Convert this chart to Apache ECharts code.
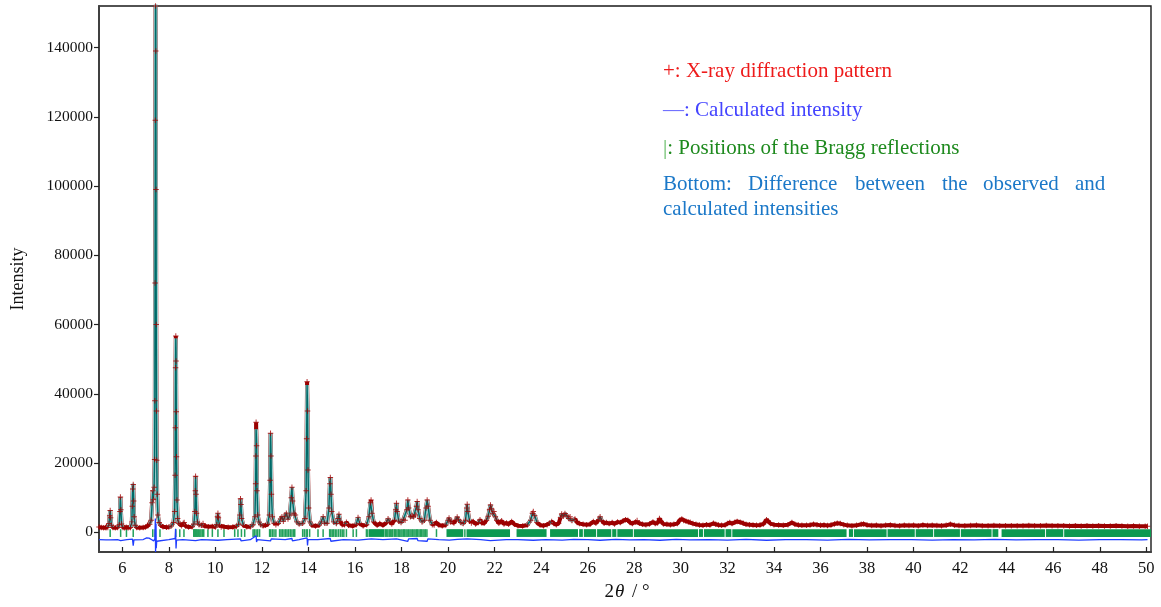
<!DOCTYPE html>
<html>
<head>
<meta charset="utf-8">
<script src="https://cdn.jsdelivr.net/npm/echarts@6/dist/echarts.min.js"></script>
<style>
html,body{margin:0;padding:0;background:#fff;}
#chart{width:1161px;height:607px;}
</style>
</head>
<body>
<div id="chart"></div>
<script>
// ---------- DATA ----------
const xTickValues = [6,8,10,12,14,16,18,20,22,24,26,28,30,32,34,36,38,40,42,44,46,48,50];
const yTickValues = [0,20000,40000,60000,80000,100000,120000,140000];

// 2θ positions of the observed points
const twoTheta = [
5.00,5.10,5.20,5.30,5.38,5.43,5.46,5.48,5.50,5.53,5.60,5.70,5.80,5.87,5.90,5.92,5.94,5.97,6.03,6.10,6.17,6.25,6.35,6.41,6.43,6.45,6.47,6.49,6.51,6.55,6.62,6.75,6.90,
7.00,7.10,7.18,7.24,7.28,7.31,7.34,7.37,7.39,7.40,7.41,7.42,7.43,7.44,7.45,7.46,7.47,7.48,7.50,7.53,7.58,7.65,7.75,7.90,
8.00,8.10,8.20,8.25,8.27,8.28,8.29,8.30,8.31,8.32,8.33,8.35,8.38,8.42,8.48,8.55,8.62,8.66,8.72,8.85,
9.00,9.08,9.12,9.14,9.15,9.17,9.19,9.23,9.30,9.40,9.47,9.55,9.70,9.87,
10.00,10.06,10.09,10.11,10.13,10.17,10.25,10.37,10.55,10.75,10.90,
11.00,11.05,11.08,11.10,11.13,11.20,11.35,11.50,11.62,11.70,11.73,11.74,11.75,11.77,11.79,11.82,11.87,11.95,
12.05,12.15,12.25,12.32,12.35,12.37,12.39,12.41,12.45,12.52,12.60,12.70,12.80,12.86,12.92,12.98,
13.05,13.12,13.20,13.26,13.29,13.32,13.38,13.44,13.50,13.60,13.75,13.85,13.90,13.92,13.94,13.96,13.98,
14.01,14.06,14.15,14.30,14.45,14.55,14.63,14.70,14.80,14.88,14.92,14.94,14.97,
15.00,15.08,15.20,15.27,15.31,15.36,15.45,15.55,15.63,15.72,15.90,
16.05,16.13,16.20,16.35,16.50,16.60,16.66,16.69,16.73,16.80,16.95,
17.06,17.20,17.35,17.42,17.50,17.58,17.70,17.75,17.78,17.81,17.88,17.98,
18.07,18.15,18.23,18.27,18.31,18.38,18.45,18.52,18.59,18.64,18.67,18.71,18.78,18.88,18.98,
19.05,19.10,19.14,19.22,19.32,19.40,19.50,19.60,19.75,19.90,
20.00,20.04,20.10,20.16,20.25,20.33,20.39,20.45,20.55,20.65,20.75,20.80,20.82,20.85,20.92,
21.00,21.08,21.18,21.30,21.37,21.45,21.55,21.65,21.72,21.78,21.82,21.86,21.92,21.97,
22.03,22.09,22.18,22.30,22.40,22.51,22.60,22.73,22.85,
23.00,23.20,23.40,23.55,23.62,23.66,23.72,23.82,23.95,
24.10,24.25,24.35,24.45,24.55,24.65,24.75,24.83,24.88,24.95,
25.02,25.10,25.18,25.24,25.32,25.45,25.55,25.65,25.80,25.95,
26.10,26.24,26.35,26.47,26.53,26.60,26.70,26.80,26.92,
27.05,27.15,27.28,27.40,27.52,27.62,27.72,27.82,27.92,
28.05,28.12,28.22,28.35,28.50,28.65,28.80,28.90,
29.00,29.08,29.15,29.25,29.40,29.55,29.70,29.85,29.95,
30.04,30.12,30.22,30.32,30.40,30.52,30.65,30.80,30.95,
31.10,31.25,31.40,31.50,31.62,31.75,31.90,
32.00,32.10,32.20,32.32,32.42,32.55,32.68,32.80,32.95,
33.10,33.25,33.40,33.55,33.68,33.75,33.85,
34.00,34.20,34.40,34.60,34.77,34.90,
35.05,35.20,35.40,35.55,35.70,35.85,
36.00,36.15,36.30,36.45,36.60,36.72,36.85,
37.00,37.15,37.35,37.55,37.75,37.85,
38.00,38.20,38.40,38.60,38.80,39.00,39.20,39.40,39.60,39.80,
40.00,40.20,40.40,40.60,40.80,41.00,41.20,41.40,41.58,41.75,41.95,
42.20,42.45,42.70,42.95,43.20,43.45,43.70,43.95,
44.20,44.45,44.70,44.95,45.20,45.45,45.70,45.95,
46.20,46.45,46.70,46.95,47.20,47.45,47.70,47.95,
48.20,48.45,48.70,48.95,49.20,49.45,49.70,49.95,50.05
];

// observed intensities ("+")
const yObs = [
1500,1350,1300,1300,1400,2500,4800,6300,4200,2000,1400,1300,1350,2200,6000,10200,6500,2400,1400,1300,1450,1300,1400,3000,7500,12500,13800,9000,4500,2000,1400,1300,1350,
1500,1900,2300,3500,8500,12000,9500,13000,21000,38000,72000,119000,152000,139000,99000,60000,35000,20800,11000,5000,2800,2000,1600,1450,
1500,1800,2800,6000,16500,30200,47500,56700,49500,34800,21800,9350,4000,2600,2400,1900,2600,2800,1800,1500,
1600,2400,6000,12000,16200,11000,5500,3000,2200,2000,2500,1800,1600,1700,
1500,2200,4500,5500,4200,2000,1500,1600,1450,1500,1700,
2300,5000,9700,8000,4000,2000,1600,1600,2200,4500,14000,22000,31770,25000,12000,5000,3000,2200,
1900,2000,2300,5000,15000,28600,22000,11000,4500,2600,2200,2500,3800,4500,3200,4500,
5500,3800,5000,10000,13000,9000,5500,5000,3000,2400,2600,4000,12000,27000,43500,35000,18000,
7000,3000,2000,1800,2000,3000,4500,2600,2600,7000,14000,15800,11000,
6000,3000,2500,4000,5200,3200,2200,2200,2900,2000,1800,
2200,4300,2500,1900,2200,4500,8500,9300,5500,3000,2000,
2500,2000,2800,3900,3000,2400,3500,6500,8400,6000,3200,2800,
3600,3500,6500,9300,7000,4500,4800,4500,5000,7500,8900,6500,4000,3000,3500,
7000,9300,7500,3500,2200,2100,2800,2100,1900,2100,
3500,4100,3000,3200,2700,3500,4400,3600,2800,2500,3500,7000,8100,6000,3200,
2700,3100,2400,2800,3600,2700,2600,3500,4600,6500,7900,6800,5500,6000,
4500,3500,2600,3300,2400,2700,2300,3100,2300,
1900,1800,2100,3500,5500,6000,4800,2800,2100,
1900,2200,2600,3100,2500,2200,2600,4200,5300,4600,
5400,4800,4000,4500,3400,3800,2800,2500,2300,2200,
2300,3100,2600,3600,4500,3400,2600,2800,2500,
2800,2400,3000,2800,3300,3600,3500,2800,2500,
3000,3400,2600,2300,2200,2400,3000,2500,
2700,4000,3200,2400,2300,2200,2300,2500,3500,
3800,3400,3200,3000,2900,2500,2300,2100,2000,
2200,2100,2600,2300,2100,2000,2100,
2500,2800,2500,2900,3100,2900,2600,2300,2200,
2100,2000,2100,2400,3600,3300,2500,
2200,2100,2000,2200,2800,2300,
2100,2000,2000,2100,2300,2200,
2000,2100,1950,2100,2400,2600,2500,
2200,2000,1900,2000,2300,2400,
2100,1950,2000,1900,2000,2100,1950,1900,2050,1950,
2000,1900,2100,1950,2000,1950,1900,2000,2300,2050,1950,
1850,1950,2000,1850,1900,1950,1850,1900,
1850,1900,1850,1950,1850,1900,1950,1850,
1900,1850,1800,1850,1800,1850,1800,1850,
1800,1800,1850,1800,1750,1800,1750,1750,1750
];

// calculated intensities (drawn where they stand out from the observed band)
const yCalc = [
null,null,null,null,1400,2400,5000,6400,4400,2000,1400,null,1350,2000,6300,10000,6800,2300,1400,null,null,null,1400,2900,7800,12800,14000,9500,4300,2000,1400,null,null,
null,null,2300,3500,8000,11800,9800,14000,22000,40000,75000,120000,158000,150000,100000,62000,36000,21000,11000,5200,2800,2000,null,null,
1500,1800,2800,6500,17000,30000,48000,56000,52000,36000,22000,9500,4000,2600,2400,null,2600,2800,null,null,
1600,2400,6000,12500,16000,11500,5600,3000,2200,2000,2500,null,null,null,
1500,2200,4700,5500,4200,2000,null,null,null,null,1700,
2300,5200,9500,8200,4000,2000,null,1600,2200,4500,14000,22000,29750,26000,12500,5000,3000,2200,
1900,null,2300,5200,15000,28600,23000,11000,4500,2600,null,2500,3800,4500,3200,4500,
5500,3800,5000,10500,13000,9000,5500,5000,3000,2400,2600,4000,12500,27000,42500,36000,18500,
7000,3000,2000,null,2000,3000,4500,2600,2600,7000,14500,15800,11000,
6000,3000,2500,4000,5200,3200,null,2200,2900,null,null,
2200,4300,2500,null,2200,4500,8800,9200,5500,3000,null,
2500,null,2800,3900,3000,null,3500,6500,8400,6000,3200,2800,
3600,3500,6500,9300,7000,4500,4800,4500,5000,7500,8900,6500,4000,3000,3500,
7000,9300,7500,3500,2200,null,2800,null,null,2100,
3500,4100,3000,3200,null,3500,4400,3600,2800,2500,3500,7000,8100,6000,3200,
null,3100,null,2800,3600,null,null,3500,4600,6500,7900,6800,5500,6000,
4500,3500,null,3300,null,2700,null,3100,null,
null,null,2100,3500,5500,6000,4800,2800,null,
null,null,2600,3100,null,null,null,4200,5300,4600,
5400,4800,4000,4500,3400,3800,null,null,null,null,
null,3100,null,3600,4500,3400,null,null,null,
null,null,null,null,null,null,null,null,null,
null,null,null,null,null,null,null,null,
null,null,null,null,null,null,null,null,null,
null,null,null,null,null,null,null,null,null,
null,null,null,null,null,null,null,
null,null,null,null,null,null,null,null,null,
null,null,null,null,null,null,null,
null,null,null,null,null,null,
null,null,null,null,null,null,
null,null,null,null,null,null,null,
null,null,null,null,null,null,
null,null,null,null,null,null,null,null,null,null,
null,null,null,null,null,null,null,null,null,null,null,
null,null,null,null,null,null,null,null,
null,null,null,null,null,null,null,null,
null,null,null,null,null,null,null,null,
null,null,null,null,null,null,null,null,null
];

// difference curve (observed - calculated, shifted below zero)
const diffX = [5.00,5.30,5.48,5.50,5.52,5.80,5.93,5.95,6.20,6.44,6.47,6.50,6.90,7.05,7.10,7.15,7.25,7.35,7.40,7.42,7.43,7.44,7.45,7.46,7.48,7.55,8.00,8.27,8.29,8.31,8.33,8.60,9.15,9.17,9.40,10.11,10.50,11.08,11.10,11.50,11.75,11.77,11.80,12.37,12.40,13.00,13.29,13.31,13.60,13.94,13.96,13.98,14.40,14.94,14.96,15.50,16.13,16.70,16.72,17.20,17.78,17.80,18.27,18.30,18.67,18.70,19.10,19.13,19.60,20.05,20.40,20.82,20.85,21.40,21.82,21.86,22.50,23.00,23.66,24.20,24.90,25.40,26.00,26.53,27.20,27.80,28.40,29.10,29.80,30.40,31.20,32.00,32.80,33.68,34.50,35.40,36.30,37.20,38.10,39.00,39.90,40.80,41.70,42.60,43.50,44.40,45.30,46.20,47.10,48.00,48.90,49.80,50.05];
const diffY = [-2150,-2200,-2200,-2600,-2100,-2150,-2400,-2000,-2100,-2000,-3900,-2200,-2100,-1600,-1100,-1700,-2100,-2500,-1900,4000,-5700,-1600,2500,-4600,-2600,-2100,-2150,-1800,1000,-4700,-2300,-2100,-2400,-1900,-2100,-2300,-2100,-1900,-2500,-2150,-1000,-2800,-2100,-2500,-1900,-2150,-1800,-2500,-2100,-1600,-3800,-2100,-2150,-1800,-2600,-2100,-2250,-1900,-2400,-2150,-1900,-2400,-2600,-1900,-1800,-2400,-2600,-1900,-2100,-2250,-2050,-1900,-2400,-2100,-2400,-1900,-2150,-2100,-2300,-2100,-2250,-2050,-2150,-2300,-2050,-2200,-2100,-2300,-2050,-2200,-2100,-2250,-2050,-2300,-2150,-2100,-2250,-2050,-2200,-2150,-2100,-2250,-2100,-2200,-2050,-2200,-2150,-2100,-2250,-2150,-2100,-2200,-2150];

// Bragg reflection positions: single ticks and dense bands [from, to]
const braggTicks = [5.48,5.93,6.18,6.47,7.31,7.41,7.62,8.30,8.47,8.65,9.07,9.10,9.14,9.18,9.22,9.27,9.33,9.38,9.44,9.50,9.68,9.87,10.11,10.37,10.83,10.97,11.12,11.26,11.62,11.68,11.75,11.82,11.90,12.33,12.38,12.45,12.52,12.60,12.76,12.82,12.88,12.95,13.02,13.08,13.15,13.22,13.29,13.36,13.41,13.75,13.82,13.90,13.95,14.05,14.41,14.63,14.91,14.96,15.02,15.08,15.15,15.22,15.30,15.38,15.45,15.52,15.63,15.92,16.06,16.49,16.55,17.30,17.36,17.41,17.47,17.52,17.58,17.62,17.69,17.74,17.80,17.86,17.90,17.97,18.02,18.08,18.13,18.19,18.24,18.30,18.36,18.41,18.47,18.53,18.58,18.64,18.69,18.75,18.81,18.86,18.92,18.97,19.03,19.09,19.50,20.72];
const braggBandFrom = [16.60,19.93,20.79,22.94,24.38,25.63,25.83,26.40,27.05,27.27,27.98,30.78,30.99,31.92,32.21,37.22,37.44,38.88,40.09,40.88,42.03,43.39,43.78,45.69,46.47];
const braggBandTo   = [17.26,20.65,22.66,24.23,25.58,25.79,26.36,27.01,27.23,27.94,30.74,30.95,31.88,32.17,37.12,37.40,38.84,40.05,40.84,41.99,43.35,43.64,45.65,46.43,50.20];
const braggTop = 900, braggBottom = -1350;

// ---------- CHART ----------
const serif = '"Liberation Serif","Times New Roman",serif';
const obsData = twoTheta.map((x, i) => [x, yObs[i]]);
const calcData = twoTheta.map((x, i) => [x, yCalc[i] == null ? '-' : yCalc[i]]);
const diffData = diffX.map((x, i) => [x, diffY[i]]);
const tickData = braggTicks.map(x => [x]);
const bandData = braggBandFrom.map((a, i) => [a, braggBandTo[i]]);
const plusSymbol = 'path://M-1,-0.18H1V0.18H-1Z M-0.18,-1H0.18V1H-0.18Z';

const chart = echarts.init(document.getElementById('chart'), null, {renderer: 'canvas'});
chart.setOption({
  animation: false,
  backgroundColor: '#ffffff',
  grid: {left: 99, right: 10, top: 6, bottom: 55, show: true, borderColor: '#1a1a1a', borderWidth: 1.4, containLabel: false},
  xAxis: {
    type: 'value', min: 5, max: 50.2,
    axisLine: {show: true, onZero: false, lineStyle: {color: '#404040', width: 2}},
    axisTick: {show: true, inside: true, length: 5, customValues: xTickValues, lineStyle: {color: '#222', width: 1.2}},
    axisLabel: {customValues: xTickValues, margin: 8, color: '#111', fontFamily: serif, fontSize: 16.5, formatter: v => String(v)},
    splitLine: {show: false}
  },
  yAxis: {
    type: 'value', min: -5700, max: 152000,
    axisLine: {show: true, onZero: false, lineStyle: {color: '#404040', width: 2}},
    axisTick: {show: true, inside: false, length: 5, customValues: yTickValues, lineStyle: {color: '#222', width: 1.2}},
    axisLabel: {customValues: yTickValues, margin: 6, color: '#111', fontFamily: serif, fontSize: 15.5, formatter: v => String(v)},
    splitLine: {show: false}
  },
  series: [
    {
      name: 'bragg-bands', type: 'custom', z: 1, silent: true,
      data: bandData,
      renderItem: function (params, api) {
        const p0 = api.coord([api.value(0), braggTop]);
        const p1 = api.coord([api.value(1), braggBottom]);
        return {type: 'rect', shape: {x: p0[0], y: p0[1], width: Math.max(1, p1[0] - p0[0]), height: p1[1] - p0[1]},
                style: {fill: '#0d9950'}};
      }
    },
    {
      name: 'bragg-ticks', type: 'custom', z: 1, silent: true,
      data: tickData,
      renderItem: function (params, api) {
        const p0 = api.coord([api.value(0), braggTop]);
        const p1 = api.coord([api.value(0), braggBottom]);
        return {type: 'line', shape: {x1: p0[0], y1: p0[1], x2: p1[0], y2: p1[1]},
                style: {stroke: '#23a15c', lineWidth: 1.5}};
      }
    },
    {
      name: 'difference', type: 'line', z: 7, data: diffData, showSymbol: false, clip: true,
      lineStyle: {color: '#1f3dff', width: 1.3}
    },
    {
      name: 'observed-band', type: 'line', z: 3, data: obsData, showSymbol: false, clip: true,
      lineStyle: {color: '#990000', width: 4}
    },
    {
      name: 'calc-halo', type: 'line', z: 4, data: calcData, showSymbol: false, clip: true, connectNulls: false,
      lineStyle: {color: '#97c8c8', width: 3.6}
    },
    {
      name: 'calculated', type: 'line', z: 5, data: calcData, showSymbol: false, clip: true, connectNulls: false,
      lineStyle: {color: '#006a68', width: 1.4}
    },
    {
      name: 'observed', type: 'scatter', z: 6, data: obsData, symbol: plusSymbol, symbolSize: 5.5, clip: true,
      itemStyle: {color: '#a00000'}
    }
  ],
  graphic: [
    {type: 'text', x: 18, y: 279, rotation: Math.PI / 2, silent: true,
     style: {text: 'Intensity', fill: '#111', font: '18px ' + serif, align: 'center', verticalAlign: 'middle'}},
    {type: 'text', x: 627, y: 592, silent: true,
     style: {text: '{n|2}{i|θ}{n| / °}', align: 'center', verticalAlign: 'middle',
             rich: {n: {fontFamily: serif, fontSize: 19, fill: '#111'}, i: {fontFamily: serif, fontSize: 19, fontStyle: 'italic', fill: '#111', padding: [0, 3, 0, 1]}}}},
    {type: 'text', x: 663, y: 71, silent: true,
     style: {text: '+: X-ray diffraction pattern', fill: '#ee1b1b', font: '21px ' + serif, verticalAlign: 'middle'}},
    {type: 'text', x: 663, y: 110, silent: true,
     style: {text: '{d|—}{t|: Calculated intensity}', verticalAlign: 'middle',
             rich: {d: {fill: '#6a6aff', fontFamily: serif, fontSize: 21}, t: {fill: '#4444ff', fontFamily: serif, fontSize: 21}}}},
    {type: 'text', x: 663, y: 148.5, silent: true,
     style: {text: '{d||}{t|: Positions of the Bragg reflections}', verticalAlign: 'middle',
             rich: {d: {fill: '#5cb85c', fontFamily: serif, fontSize: 21}, t: {fill: '#1e8a1e', fontFamily: serif, fontSize: 21}}}},
    {type: 'text', x: 663, y: 184, silent: true, style: {text: 'Bottom:', fill: '#1b78c8', font: '21px ' + serif, verticalAlign: 'middle'}},
    {type: 'text', x: 748, y: 184, silent: true, style: {text: 'Difference', fill: '#1b78c8', font: '21px ' + serif, verticalAlign: 'middle'}},
    {type: 'text', x: 855, y: 184, silent: true, style: {text: 'between', fill: '#1b78c8', font: '21px ' + serif, verticalAlign: 'middle'}},
    {type: 'text', x: 942, y: 184, silent: true, style: {text: 'the', fill: '#1b78c8', font: '21px ' + serif, verticalAlign: 'middle'}},
    {type: 'text', x: 983, y: 184, silent: true, style: {text: 'observed', fill: '#1b78c8', font: '21px ' + serif, verticalAlign: 'middle'}},
    {type: 'text', x: 1075, y: 184, silent: true, style: {text: 'and', fill: '#1b78c8', font: '21px ' + serif, verticalAlign: 'middle'}},
    {type: 'text', x: 663, y: 209, silent: true, style: {text: 'calculated intensities', fill: '#1b78c8', font: '21px ' + serif, verticalAlign: 'middle'}}
  ]
});
</script>
</body>
</html>
